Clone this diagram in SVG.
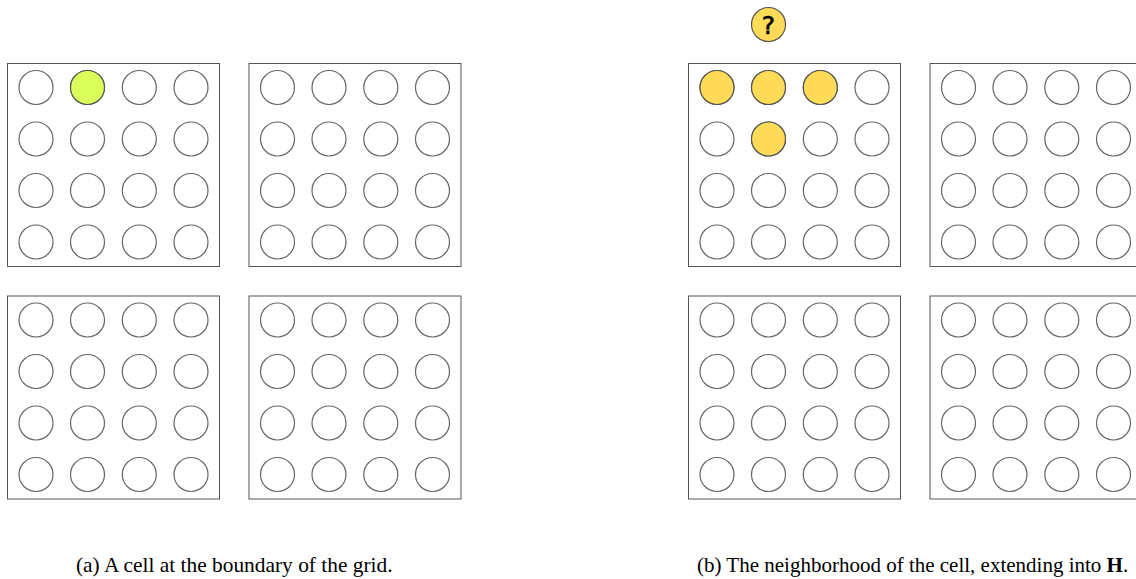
<svg xmlns="http://www.w3.org/2000/svg" width="1136" height="579" viewBox="0 0 1136 579">
<style>
.box{fill:#fff;stroke:#555;stroke-width:1}
.c{fill:#fff;stroke:#666;stroke-width:1.2}
.g{fill:#dbff5a;stroke:#555;stroke-width:1.2}
.y{fill:#ffdb58;stroke:#555;stroke-width:1.2}
.cap{font-family:"Liberation Serif",serif;font-size:21px;fill:#000}
</style>
<defs>
<g id="grid">
<rect class="box" x="0" y="0" width="212" height="203"/>
<g>
<circle class="c" cx="28.5" cy="24" r="17"/><circle class="c" cx="80" cy="24" r="17"/><circle class="c" cx="131.8" cy="24" r="17"/><circle class="c" cx="183.5" cy="24" r="17"/>
<circle class="c" cx="28.5" cy="75.5" r="17"/><circle class="c" cx="80" cy="75.5" r="17"/><circle class="c" cx="131.8" cy="75.5" r="17"/><circle class="c" cx="183.5" cy="75.5" r="17"/>
<circle class="c" cx="28.5" cy="127" r="17"/><circle class="c" cx="80" cy="127" r="17"/><circle class="c" cx="131.8" cy="127" r="17"/><circle class="c" cx="183.5" cy="127" r="17"/>
<circle class="c" cx="28.5" cy="178.5" r="17"/><circle class="c" cx="80" cy="178.5" r="17"/><circle class="c" cx="131.8" cy="178.5" r="17"/><circle class="c" cx="183.5" cy="178.5" r="17"/>
</g>
</g>
</defs>
<g id="panel-a">
<use id="a-tl" href="#grid" x="7.5" y="63.5"/>
<use id="a-tr" href="#grid" x="249" y="63.5"/>
<use id="a-bl" href="#grid" x="7.5" y="296"/>
<use id="a-br" href="#grid" x="249" y="296"/>
<circle id="a-cell" class="g" cx="87.5" cy="87.5" r="17"/>
<text class="cap" x="76" y="572" style="font-size:21.4px">(a) A cell at the boundary of the grid.</text>
</g>
<g id="panel-b">
<use id="b-tl" href="#grid" x="688.5" y="63.5"/>
<use id="b-tr" href="#grid" x="930" y="63.5"/>
<use id="b-bl" href="#grid" x="688.5" y="296"/>
<use id="b-br" href="#grid" x="930" y="296"/>
<g id="b-neighbors">
<circle class="y" cx="717" cy="87.5" r="17"/>
<circle class="y" cx="768.5" cy="87.5" r="17"/>
<circle class="y" cx="820.3" cy="87.5" r="17"/>
<circle class="y" cx="768.5" cy="139" r="17"/>
</g>
<g id="b-unknown">
<circle class="y" cx="768.5" cy="24.5" r="17"/>
<text x="768.5" y="33.5" text-anchor="middle" font-family="DejaVu Sans,sans-serif" font-size="25" stroke="#000" stroke-width="0.6" fill="#000">?</text>
</g>
<text class="cap" x="697" y="572">(b) The neighborhood of the cell, extending into <tspan font-weight="bold">H</tspan>.</text>
</g>
<g id="connectors"/>
</svg>
